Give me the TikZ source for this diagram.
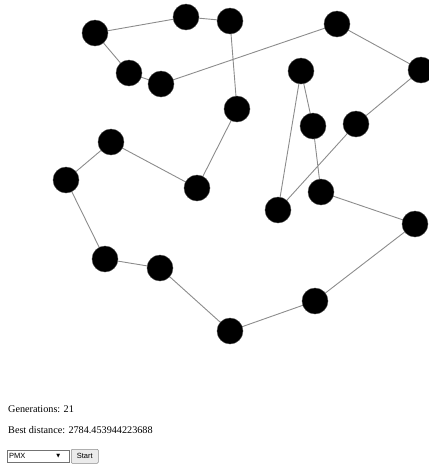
\documentclass[tikz,border=0pt]{standalone}
\usepackage{fontspec}
\setmainfont{Liberation Serif}
\newfontfamily\uisans{Liberation Sans}
\newfontfamily\symfont{DejaVu Sans}
\begin{document}
\begin{tikzpicture}[x=1pt,y=-1pt,
  city/.style={circle,fill=black,draw=black!70,line width=0.4pt,minimum size=26pt,inner sep=0pt},
  edge/.style={draw=black!45,line width=0.9pt},
  label/.style={anchor=base west,inner sep=0pt,font=\fontsize{10.2}{12}\selectfont}]
\useasboundingbox (0,0) rectangle (429,464);
% edges first (drawn under cities)
\coordinate (c1) at (95,33);
\coordinate (c2) at (186,17);
\coordinate (c3) at (230,21);
\coordinate (c4) at (337,24);
\coordinate (c5) at (129,73);
\coordinate (c6) at (161,84);
\coordinate (c7) at (301,71);
\coordinate (c8) at (421,70);
\coordinate (c9) at (237,109);
\coordinate (c10) at (313,126);
\coordinate (c11) at (356,124);
\coordinate (c12) at (111,142);
\coordinate (c13) at (66,180);
\coordinate (c14) at (197,188);
\coordinate (c15) at (321,192);
\coordinate (c16) at (278,210);
\coordinate (c17) at (415,224);
\coordinate (c18) at (105,259);
\coordinate (c19) at (160,268);
\coordinate (c20) at (315,301);
\coordinate (c21) at (230,331);
\draw[edge] (c1) -- (c2) -- (c3) -- (c9) -- (c14) -- (c12) -- (c13) -- (c18) -- (c19) -- (c21) -- (c20) -- (c17) -- (c15) -- (c10) -- (c7) -- (c16) -- (c11) -- (c8) -- (c4) -- (c6) -- (c5) -- (c1);
\foreach \i in {1,...,21} \node[city] (n\i) at (c\i) {};
% texts
\node[label] (gen) at (8,412) {Generations: 21};
\node[label] (best) at (8,433) {Best distance: 2784.453944223688};
% select box
\node[draw=black!55,fill=white,line width=0.5pt,minimum width=62pt,minimum height=12pt,inner sep=0pt,anchor=north west] (sel) at (7,450) {};
\node[anchor=west,inner sep=0pt,font=\uisans\fontsize{7.5}{9}\selectfont] (selt) at ([xshift=2pt]sel.west) {PMX};
\node[anchor=east,inner sep=0pt,font=\symfont\fontsize{5}{6}\selectfont] (selarr) at ([xshift=-9pt]sel.east) {▼};
% button
\node[draw=black!45,fill=black!8,rounded corners=1pt,line width=0.5pt,minimum width=27pt,minimum height=14pt,inner sep=0pt,anchor=north west,font=\uisans\fontsize{7.5}{9}\selectfont] (start) at (71,449) {Start};
\end{tikzpicture}
\end{document}
